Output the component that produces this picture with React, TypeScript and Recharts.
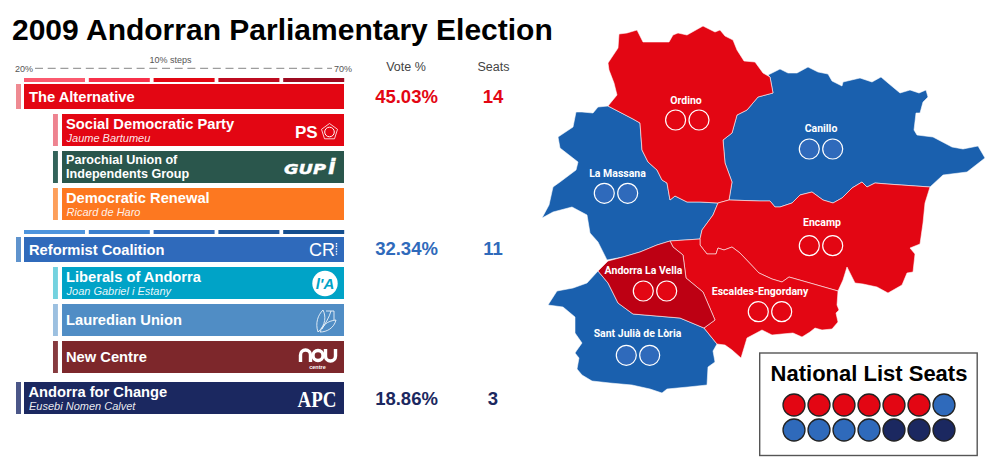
import React from "react";
import { BarChart, Bar, Cell, XAxis, YAxis, ScatterChart, Scatter } from "recharts";

const FONT = "'Liberation Sans', Arial, sans-serif";

const RED = "#e30613";
const BLUE = "#2f6abb";
const NAVY = "#1b2860";
const MAP_BLUE = "#1a60ae";
const MAP_DARK_RED = "#bd0013";

// rows of the party table
const allianceOne = [
  { name: ["The Alternative"], leader: "", fill: RED, stub: "#ef8a92" },
];
const allianceOneMembers = [
  { name: ["Social Democratic Party"], leader: "Jaume Bartumeu", fill: RED, stub: "#ee8390" },
  { name: ["Parochial Union of", "Independents Group"], leader: "", fill: "#2a564c", stub: "#33635a" },
  { name: ["Democratic Renewal"], leader: "Ricard de Haro", fill: "#fd7820", stub: "#fd9f5b" },
];
const allianceTwo = [
  { name: ["Reformist Coalition"], leader: "", fill: BLUE, stub: "#5f93cd" },
];
const allianceTwoMembers = [
  { name: ["Liberals of Andorra"], leader: "Joan Gabriel i Estany", fill: "#00a3c7", stub: "#74d2df" },
  { name: ["Lauredian Union"], leader: "", fill: "#508dc5", stub: "#9cc0e0" },
  { name: ["New Centre"], leader: "", fill: "#7d272b", stub: "#863b3f" },
];
const allianceThree = [
  { name: ["Andorra for Change"], leader: "Eusebi Nomen Calvet", fill: NAVY, stub: "#4b5688" },
];

const stepLabels = ["20-30%", "30-40%", "40-50%", "50-60%", "60-70%"];
const redSteps = ["#fb5a6f", "#f8304a", "#e30613", "#bd0b20", "#9c0a20"];
const blueSteps = ["#4d94dd", "#3a7fce", "#2f6abb", "#21599f", "#144e8e"];

const voteLabels = ["45.03%", "32.34%", "18.86%"];
const seatLabels = ["14", "11", "3"];
const resultColors = [RED, BLUE, NAVY];
const resultBaselines = [102.5, 254.5, 404.5];

// parish outlines, in map units
const ordino = [[619,34],[627,33],[637,30],[643,42],[660,42],[669,42],[673,35],[678,33],[687,35],[703,26],[715,32],[720,30],[725,36],[733,40],[737,50],[744,61],[755,62],[763,73],[770,77],[773,93],[758,97],[747,110],[737,115],[732,133],[723,140],[725,163],[732,182],[729,200],[718,203],[700,202],[687,202],[675,196],[670,200],[667,183],[662,180],[657,170],[648,162],[642,150],[640,123],[633,119],[608,106],[617,95],[614,83],[609,70],[608,63],[618,48]];
const massana = [[608,106],[598,107],[593,113],[582,112],[576,112],[573,127],[558,137],[560,148],[578,162],[576,170],[560,182],[553,187],[549,205],[542,218],[553,212],[572,207],[587,215],[590,233],[598,242],[607,260],[623,257],[640,252],[657,245],[670,241],[700,239],[702,230],[713,215],[718,203],[700,202],[687,202],[675,196],[670,200],[667,183],[662,180],[657,170],[648,162],[642,150],[640,123],[633,119]];
const canillo = [[768,75],[780,69],[788,73],[797,73],[808,67],[818,72],[828,74],[832,81],[842,86],[843,82],[860,78],[872,82],[881,77],[888,83],[900,93],[910,90],[919,93],[926,90],[928,97],[923,102],[920,113],[916,113],[914,130],[917,135],[933,137],[952,147],[963,149],[978,146],[985,158],[967,172],[943,175],[930,187],[887,184],[875,183],[867,187],[862,182],[852,188],[842,198],[833,203],[823,200],[812,192],[800,195],[792,203],[780,207],[775,207],[770,201],[760,201],[729,200],[732,182],[725,163],[723,140],[732,133],[737,115],[747,110],[758,97],[773,93],[770,77]];
const encamp = [[729,200],[760,201],[770,201],[775,207],[780,207],[792,203],[800,195],[812,192],[823,200],[833,203],[842,198],[852,188],[862,182],[867,187],[875,183],[887,184],[930,187],[925,203],[923,223],[920,244],[910,248],[915,254],[913,272],[907,273],[902,285],[888,293],[877,287],[863,284],[855,283],[847,267],[843,280],[838,291],[789,277],[782,282],[772,279],[759,273],[740,253],[732,247],[724,250],[718,248],[716,254],[707,254],[700,245],[700,239],[702,230],[713,215],[718,203]];
const escaldes = [[670,241],[700,239],[700,245],[707,254],[716,254],[718,248],[724,250],[732,247],[740,253],[759,273],[772,279],[782,282],[789,277],[838,291],[837,305],[839,310],[836,313],[838,322],[832,329],[822,330],[815,328],[810,332],[802,337],[793,333],[782,334],[772,335],[762,330],[747,338],[741,358],[732,350],[725,345],[717,344],[704,328],[715,320],[703,292],[686,278],[683,255],[673,247]];
const andorraLaVella = [[598,271],[608,261],[623,257],[640,252],[657,245],[670,241],[673,247],[683,255],[686,278],[703,292],[715,320],[704,328],[680,318],[633,314],[618,303],[608,283]];
const santJulia = [[598,271],[587,283],[573,288],[557,291],[548,305],[563,307],[575,317],[575,333],[582,343],[577,350],[575,353],[579,358],[577,369],[582,375],[592,381],[610,383],[632,385],[650,389],[662,393],[667,389],[688,387],[707,385],[708,367],[715,362],[713,351],[717,344],[704,328],[680,318],[633,314],[618,303],[608,283]];

const parishShapes = [
  { points: massana, fill: MAP_BLUE },
  { points: santJulia, fill: MAP_BLUE },
  { points: canillo, fill: MAP_BLUE },
  { points: ordino, fill: RED },
  { points: encamp, fill: RED },
  { points: escaldes, fill: RED },
  { points: andorraLaVella, fill: MAP_DARK_RED },
];

const parishNames = ["Ordino", "Canillo", "La Massana", "Encamp", "Andorra La Vella", "Escaldes-Engordany", "Sant Julià de Lòria"];
const parishLabelX = [686, 821, 617.5, 822, 643.5, 760, 637.5];
const parishLabelY = [104, 132, 177, 226, 274, 295, 337];
const parishSeatX = [687.3, 821, 616, 821, 655, 770, 638];
const parishSeatY = [120, 149, 193.3, 245.7, 291, 311.7, 355.3];
const parishSeatFill = [RED, BLUE, BLUE, RED, RED, RED, BLUE];

const nationalCounts = [
  { fill: RED, seats: 6 },
  { fill: BLUE, seats: 5 },
  { fill: NAVY, seats: 3 },
];

const closed = (pts: number[][]) => [...pts, pts[0]].map(([x, y]) => ({ x, y }));
const NoDot = () => <g />;

const parishLabels = parishNames.map((name, i) => ({ name, x: parishLabelX[i], y: parishLabelY[i] }));
const parishSeats = parishNames.flatMap((name, i) => [
  { x: parishSeatX[i] - 11.7, y: parishSeatY[i], fill: parishSeatFill[i] },
  { x: parishSeatX[i] + 11.7, y: parishSeatY[i], fill: parishSeatFill[i] },
]);
const nationalFills = nationalCounts.flatMap((p) => Array(p.seats).fill(p.fill));
const nationalSeats = nationalFills.map((fill, i) => ({ slot: i % 7, line: Math.floor(i / 7), fill }));

const RowShape = (props: any) => {
  const { x, y, width, height, payload } = props;
  const lines: string[] = payload.name;
  const tx = x + (payload.textDx ?? 4);
  const cy = y + height / 2;
  return (
    <g fontFamily={FONT} fill="#fff">
      <rect x={x} y={y} width={width} height={height} fill={payload.fill} />
      {lines.length === 2 ? (
        <>
          <text x={tx} y={y + 13.2} fontSize={12.6} fontWeight={700}>{lines[0]}</text>
          <text x={tx} y={y + 27.2} fontSize={12.6} fontWeight={700}>{lines[1]}</text>
        </>
      ) : payload.leader ? (
        <>
          <text x={tx} y={y + 15.2} fontSize={14.7} fontWeight={700}>{lines[0]}</text>
          <text x={tx + 0.5} y={y + 27.5} fontSize={11} fontStyle="italic" fillOpacity={0.92}>{payload.leader}</text>
        </>
      ) : (
        <text x={tx} y={cy + 5} fontSize={14.7} fontWeight={700}>{lines[0]}</text>
      )}
    </g>
  );
};

const StubShape = (props: any) => {
  const { x, y, width, height, payload } = props;
  return <rect x={x} y={y} width={width} height={height} fill={payload.stub} />;
};

// one block of rows, the x axis runs on the 20%-70% strip
const RowChart = ({ rows, top, height, barSize, stub, banner, textDx }: any) => {
  const data = rows.map((r: any) => ({ ...r, label: r.name.join(" "), stubRange: stub, bannerRange: banner, textDx }));
  return (
    <div style={{ position: "absolute", left: 0, top }}>
      <BarChart
        width={344}
        height={height}
        layout="vertical"
        data={data}
        margin={{ top: 0, right: 0, bottom: 0, left: 11.2 }}
      >
        <XAxis type="number" domain={[18, 70]} hide allowDataOverflow />
        <YAxis yAxisId="stub" type="category" dataKey="label" hide />
        <YAxis yAxisId="banner" type="category" dataKey="label" hide />
        <Bar yAxisId="stub" dataKey="stubRange" barSize={barSize} shape={StubShape} isAnimationActive={false} />
        <Bar yAxisId="banner" dataKey="bannerRange" barSize={barSize} shape={RowShape} isAnimationActive={false} />
      </BarChart>
    </div>
  );
};

const StepStrip = ({ top, colors }: any) => (
  <div style={{ position: "absolute", left: 22, top }}>
    <BarChart
      width={324}
      height={4}
      data={stepLabels.map((step) => ({ step, on: 1 }))}
      barCategoryGap={2}
      margin={{ top: 0, right: 0, bottom: 0, left: 0 }}
    >
      <XAxis dataKey="step" hide />
      <YAxis domain={[0, 1]} hide />
      <Bar dataKey="on" isAnimationActive={false}>
        {colors.map((c: string) => (
          <Cell key={c} fill={c} />
        ))}
      </Bar>
    </BarChart>
  </div>
);

const ParishLabel = (props: any) => (
  <text x={props.cx} y={props.cy} textAnchor="middle" fontFamily="Roboto" fontWeight={700} fontSize={10.5} fill="#fff">
    {props.payload.name}
  </text>
);

const ParishSeat = (props: any) => (
  <circle cx={props.cx} cy={props.cy} r={10} fill={props.payload.fill} stroke="#fff" strokeWidth={1.2} />
);

const NationalSeat = (props: any) => (
  <circle cx={props.cx} cy={props.cy} r={11} fill={props.payload.fill} stroke="#222" strokeWidth={1.3} />
);

const MapChart = () => (
  <div style={{ position: "absolute", left: 0, top: 0 }}>
    <ScatterChart width={1000} height={472} margin={{ top: 0, right: 0, bottom: 0, left: 0 }}>
      <XAxis type="number" dataKey="x" domain={[0, 1000]} hide />
      <YAxis type="number" dataKey="y" domain={[0, 472]} reversed hide />
      {parishShapes.map((p, i) => (
        <Scatter
          key={i}
          data={closed(p.points)}
          line={{ fill: p.fill, stroke: "#fff", strokeOpacity: 0.7, strokeWidth: 0.8 }}
          lineJointType="linear"
          shape={NoDot}
          isAnimationActive={false}
        />
      ))}
      <Scatter data={parishSeats} shape={ParishSeat} isAnimationActive={false} />
      <Scatter data={parishLabels} shape={ParishLabel} isAnimationActive={false} />
    </ScatterChart>
  </div>
);

const NationalChart = () => (
  <div style={{ position: "absolute", left: 759, top: 353 }}>
    <ScatterChart width={218} height={102} margin={{ top: 52, right: 33, bottom: 25, left: 35 }}>
      <XAxis type="number" dataKey="slot" domain={[0, 6]} hide />
      <YAxis type="number" dataKey="line" domain={[0, 1]} reversed hide />
      <Scatter data={nationalSeats} shape={NationalSeat} isAnimationActive={false} />
    </ScatterChart>
  </div>
);

const Logos = () => (
  <g fill="#fff" fontFamily={FONT}>
    <text x={295} y={137.5} fontSize={17} fontWeight={700}>PS</text>
    <polygon points="329.5,123.5 337.5,129.3 334.5,138.8 324.5,138.8 321.5,129.3" fill="none" stroke="#fff" strokeWidth={0.8} />
    <circle cx={329.5} cy={132} r={4.8} fill="none" stroke="#fff" strokeWidth={1} />

    <text x={284} y={174} fontSize={14.5} fontWeight={700} fontStyle="italic" fontFamily="DejaVu Sans" stroke="#fff" strokeWidth={0.4} textLength={42} lengthAdjust="spacingAndGlyphs">GUP</text>
    <text x={328} y={174} fontSize={22} fontWeight={700} fontStyle="italic" fontFamily="DejaVu Sans" stroke="#fff" strokeWidth={0.4}>i</text>

    <text x={309} y={256} fontSize={18}>CR</text>
    <line x1={336.5} y1={243} x2={336.5} y2={256} stroke="#fff" strokeWidth={1.4} strokeDasharray="1.4 1.2" />

    <circle cx={325} cy={283.5} r={12.7} />
    <text x={325} y={289} textAnchor="middle" fontSize={15} fontWeight={700} fontStyle="italic" fill="#00a3c7">l'A</text>

    <g fill="none" stroke="#fff" strokeWidth={0.8}>
      <path d="M318 332 C315 323 318 315 323 310 C326 316 326 325 318 332" />
      <path d="M320 332 C323 325 327 321 336 320 C334 328 327 332 320 332" />
      <path d="M322 329 C326 322 329 318 331 311 M326 311 L334 311 L334 320" />
    </g>

    <g fill="none" stroke="#fff" strokeWidth={3.4}>
      <path d="M300.5 362 V355 A5 5 0 0 1 310.5 355 V362" />
      <circle cx={318} cy={355.5} r={5} />
      <path d="M325.5 349 V356 A5 5 0 0 0 335.5 356 V349" />
    </g>
    <text x={317.5} y={368.5} textAnchor="middle" fontSize={5.5} fontWeight={700}>centre</text>

    <text x={297.5} y={406.5} fontSize={24} fontWeight={700} fontFamily="'Liberation Serif'" textLength={39} lengthAdjust="spacingAndGlyphs">APC</text>
  </g>
);

const Headings = () => (
  <g fontFamily={FONT}>
    <text x={12} y={40} fontSize={30} fontWeight={700} fill="#000">2009 Andorran Parliamentary Election</text>
    <g fontSize={9} fill="#555">
      <text x={15} y={71.5}>20%</text>
      <text x={334} y={71.5}>70%</text>
      <text x={170.5} y={63} textAnchor="middle">10% steps</text>
    </g>
    <line x1={35} y1={68.3} x2={332} y2={68.3} stroke="#666" strokeWidth={0.8} strokeDasharray="8 4.7" />
    <g fontSize={12.5} fill="#444" textAnchor="middle">
      <text x={406} y={71}>Vote %</text>
      <text x={493.5} y={71}>Seats</text>
    </g>
    <g fontSize={18.5} fontWeight={700} textAnchor="middle">
      {voteLabels.map((v, i) => (
        <text key={v} x={406.5} y={resultBaselines[i]} fill={resultColors[i]}>{v}</text>
      ))}
      {seatLabels.map((v, i) => (
        <text key={v} x={493} y={resultBaselines[i]} fill={resultColors[i]}>{v}</text>
      ))}
    </g>
    <rect x={759.7} y={353} width={217.5} height={102.5} fill="none" stroke="#555" strokeWidth={1.4} />
    <text x={869} y={381} textAnchor="middle" fontSize={22} fontWeight={700} fill="#000">National List Seats</text>
  </g>
);

export default function App() {
  return (
    <div style={{ position: "absolute", left: 0, top: 0, width: 1000, height: 472, background: "#fff", overflow: "hidden" }}>
      <MapChart />
      <StepStrip top={77.7} colors={redSteps} />
      <StepStrip top={230} colors={blueSteps} />
      <RowChart rows={allianceOne} top={82.3} height={29} barSize={25} stub={[18.75, 19.53]} banner={[20, 70]} textDx={5} />
      <RowChart rows={allianceOneMembers} top={111.3} height={111} barSize={32} stub={[24.53, 25.3]} banner={[25.94, 70]} textDx={4} />
      <RowChart rows={allianceTwo} top={234.7} height={29} barSize={25} stub={[18.75, 19.53]} banner={[20, 70]} textDx={5} />
      <RowChart rows={allianceTwoMembers} top={264} height={111} barSize={32} stub={[24.53, 25.3]} banner={[25.94, 70]} textDx={4} />
      <RowChart rows={allianceThree} top={380.3} height={36} barSize={32} stub={[18.75, 19.53]} banner={[20, 70]} textDx={4.5} />
      <svg width={1000} height={472} style={{ position: "absolute", left: 0, top: 0, pointerEvents: "none" }}>
        <Headings />
        <Logos />
      </svg>
      <NationalChart />
    </div>
  );
}
